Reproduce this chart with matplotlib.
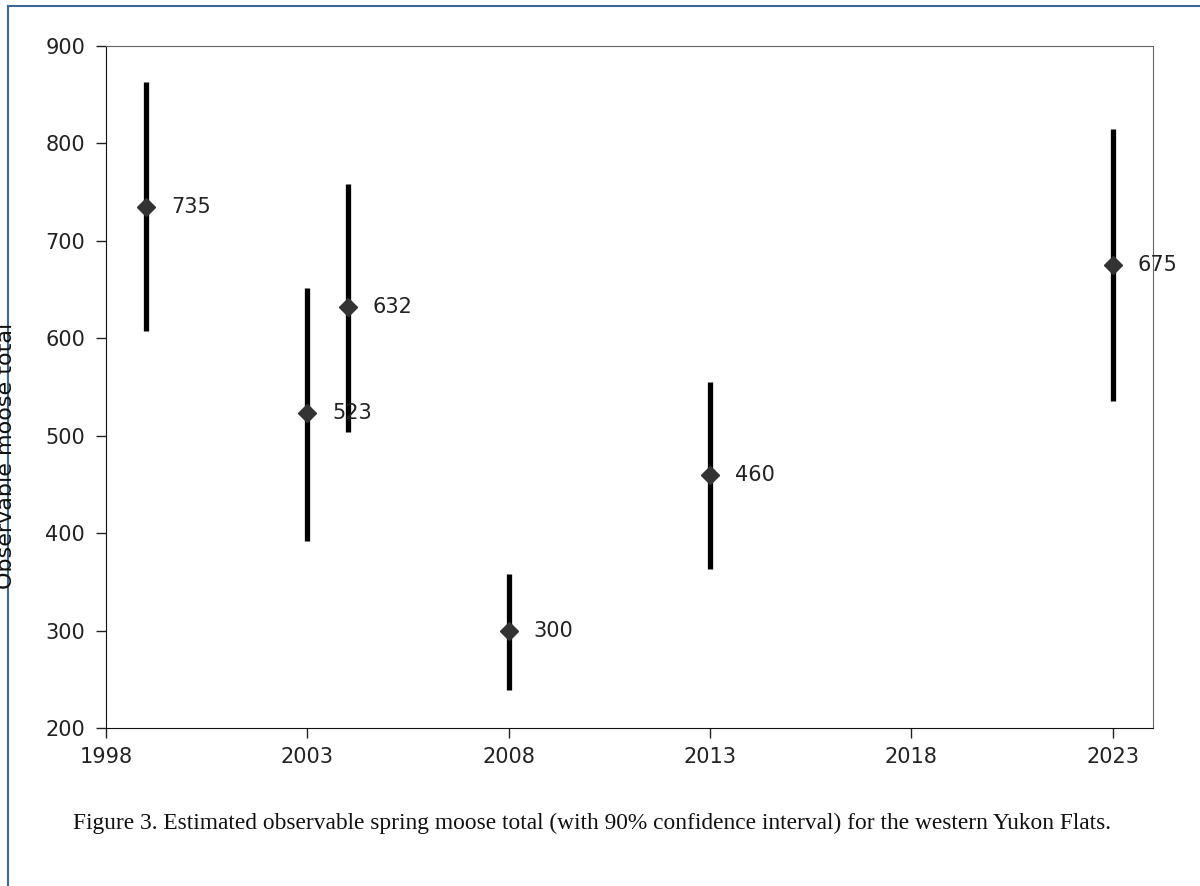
import matplotlib
matplotlib.use('Agg')
import matplotlib.pyplot as plt
from matplotlib.lines import Line2D

# survey years, estimates and 90% CI bounds
years = [1999, 2003, 2004, 2008, 2013, 2023]
estimates = [735, 523, 632, 300, 460, 675]
ci_low = [607, 392, 504, 239, 363, 536]
ci_high = [863, 652, 758, 358, 555, 815]

x_ticks = [1998, 2003, 2008, 2013, 2018, 2023]
y_ticks = [200, 300, 400, 500, 600, 700, 800, 900]

caption = ('Figure 3. Estimated observable spring moose total '
           '(with 90% confidence interval) for the western Yukon Flats.')

fig = plt.figure(figsize=(12, 8.86), dpi=100)
ax = fig.add_axes([106 / 1200, 1 - 728 / 886, (1153 - 106) / 1200, (728 - 46) / 886])

# confidence intervals as plain thick bars
ax.vlines(years, ci_low, ci_high, color='black', linewidth=3.8, zorder=2)
ax.plot(years, estimates, linestyle='none', marker='D', markersize=9,
        color='#333333', zorder=3)

for x, y in zip(years, estimates):
    ax.annotate(str(y), (x, y), xytext=(18, 0), textcoords='offset points',
                ha='left', va='center', fontsize=15, color='#222222', zorder=4)

ax.set_xlim(1998, 2024)
ax.set_ylim(200, 900)
ax.set_xticks(x_ticks)
ax.set_yticks(y_ticks)
ax.tick_params(direction='out', length=7, width=1, labelsize=15,
               colors='#222222')
ax.tick_params(axis='y', pad=8)
ax.tick_params(axis='x', pad=7)
for side in ['top', 'right']:
    ax.spines[side].set_color('#666666')
for side in ['left', 'bottom']:
    ax.spines[side].set_color('#111111')

# y label, cut off at the page edge as in the source
fig.text(6 / 1200, 1 - 456 / 886, 'Observable moose total', rotation=90,
         ha='center', va='center', fontsize=16, color='#111111')

fig.text(73 / 1200, 1 - 823 / 886, caption, ha='left', va='center',
         family='Liberation Serif', fontsize=16.8, color='#111111')

# page border lines (top and left)
border = '#3b6a96'
fig.add_artist(Line2D([8 / 1200, 1], [1 - 6 / 886, 1 - 6 / 886],
                      transform=fig.transFigure, color=border, linewidth=1.5))
fig.add_artist(Line2D([8 / 1200, 8 / 1200], [0, 1 - 6 / 886],
                      transform=fig.transFigure, color=border, linewidth=1.5))

fig.savefig('out.png', dpi=100)
